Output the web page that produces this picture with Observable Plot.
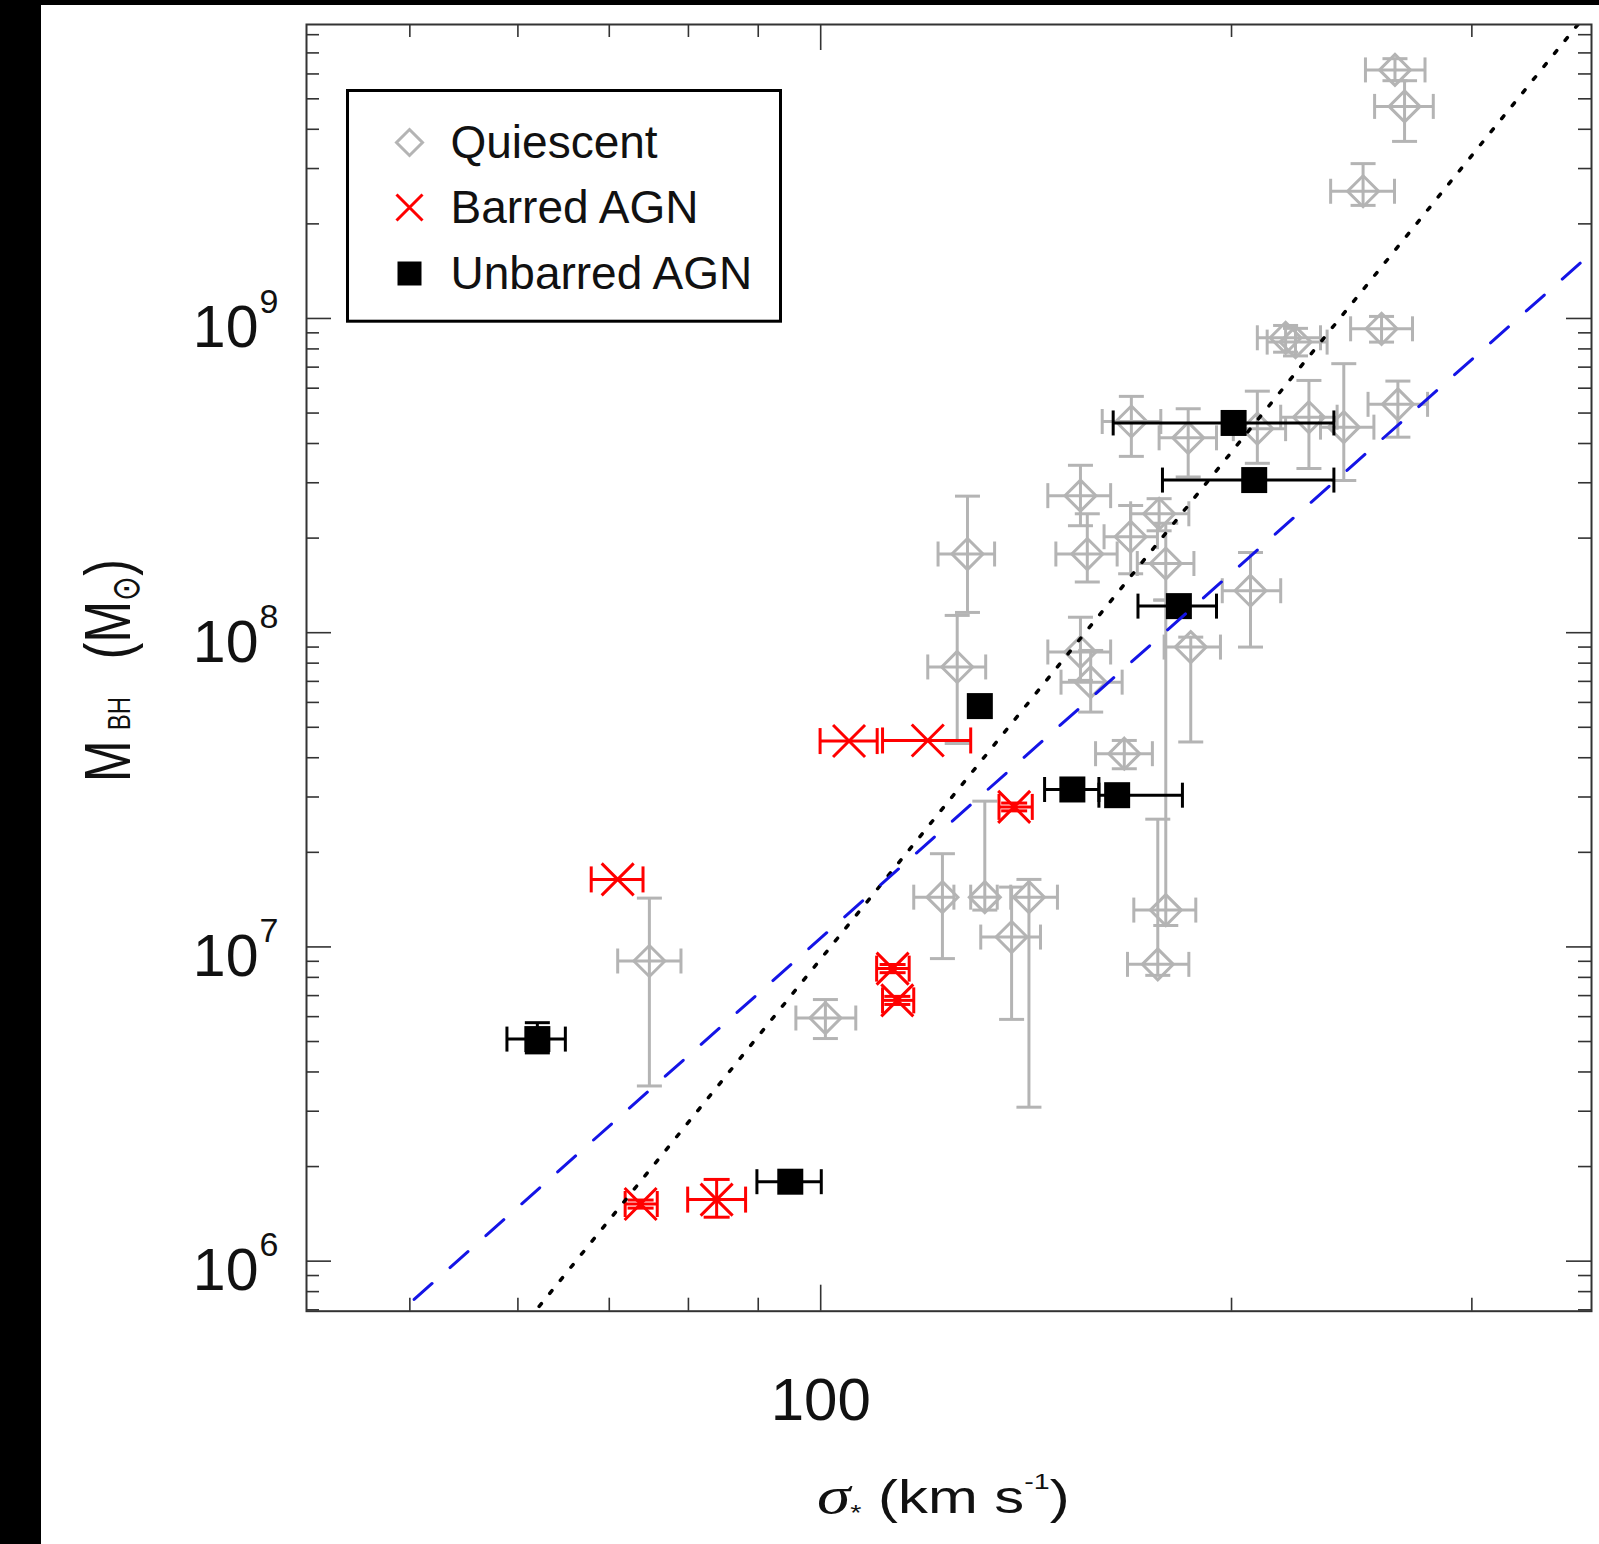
<!DOCTYPE html>
<html><head><meta charset="utf-8">
<script src="https://cdn.jsdelivr.net/npm/d3@7"></script>
<script src="https://cdn.jsdelivr.net/npm/@observablehq/plot@0.6"></script>
<style>
html,body{margin:0;padding:0;background:#000;}
#wrap{position:absolute;left:41px;top:5px;width:1558px;height:1539px;background:#fff;}
</style></head><body><div id="wrap"></div>
<script>
// ---------- data (sigma in km/s, M_BH in solar masses) ----------
const quiescentSigma   = [263.5, 267.8, 249.7, 219.1, 222.8, 257.6, 264.8, 241.7, 227.9, 208.9, 185.9, 168.9, 155.0, 177.0, 168.7, 156.8, 179.0, 179.0, 176.6, 206.5, 186.7, 155.0, 157.7, 125.9, 128.1, 166.9, 122.8, 131.9, 142.1, 138.0, 74.9, 100.8];
const quiescentSigmaLo = [250.7, 254.6, 236.4, 208.9, 212.4, 244.5, 251.8, 232.4, 217.3, 200.6, 177.0, 160.8, 146.7, 168.7, 161.3, 148.7, 170.6, 169.6, 167.8, 196.9, 178.5, 146.7, 150.0, 119.8, 121.9, 159.0, 117.0, 128.8, 137.8, 131.0, 71.0, 95.9];
const quiescentSigmaHi = [277.2, 281.1, 263.3, 232.4, 235.0, 271.4, 278.4, 254.3, 239.0, 219.1, 195.0, 177.5, 163.1, 186.1, 176.5, 164.9, 187.7, 188.3, 186.1, 217.3, 196.3, 163.1, 166.3, 132.1, 134.1, 175.0, 125.2, 134.7, 149.1, 144.9, 79.0, 106.1];
const quiescentMass    = [6.18e9, 4.73e9, 2.54e9, 8.68e8, 8.41e8, 9.27e8, 5.33e8, 4.51e8, 4.85e8, 4.46e8, 4.17e8, 4.70e8, 2.73e8, 2.39e8, 2.02e8, 1.78e8, 1.66e8, 1.31e7, 8.80e6, 1.36e8, 9.0e7, 8.68e7, 6.96e7, 7.78e7, 1.78e8, 4.12e7, 1.44e7, 1.44e7, 1.44e7, 1.075e7, 9.02e6, 5.94e6];
const quiescentMassLo  = [5.71e9, 3.66e9, 2.29e9, 7.81e8, 7.60e8, 8.41e8, 4.19e8, 3.05e8, 3.33e8, 3.46e8, 3.13e8, 3.64e8, 2.19e8, 2.11e8, 1.54e8, 1.45e8, 1.27e8, 1.17e7, 8.12e6, 9.0e7, 4.49e7, 7.05e7, 5.59e7, 4.44e7, 1.16e8, 3.69e7, 9.18e6, 1.31e7, 3.09e6, 5.88e6, 3.61e6, 5.11e6];
const quiescentMassHi  = [6.71e9, 5.71e9, 3.11e9, 9.50e8, 9.30e8, 1.015e9, 6.32e8, 7.18e8, 6.35e8, 5.87e8, 5.16e8, 5.65e8, 3.41e8, 2.67e8, 2.54e8, 2.39e8, 2.23e8, 1.27e8, 2.55e7, 1.80e8, 9.68e7, 1.12e8, 8.78e7, 1.135e8, 2.72e8, 4.54e7, 1.98e7, 2.91e7, 1.64e7, 1.55e7, 1.43e7, 6.80e6];

const barredSigma   = [119.8, 104.9, 138.6, 112.9, 113.8, 71.0, 73.8, 83.9];
const barredSigmaLo = [111.0, 99.9, 135.1, 109.9, 111.0, 67.9, 71.9, 79.9];
const barredSigmaHi = [128.8, 110.0, 142.9, 116.1, 117.0, 74.1, 75.9, 88.1];
const barredMass    = [4.54e7, 4.52e7, 2.79e7, 8.53e6, 6.76e6, 1.64e7, 1.52e6, 1.57e6];
const barredMassLo  = [null, null, 2.71e7, 8.28e6, 6.56e6, null, 1.475e6, 1.38e6];
const barredMassHi  = [null, null, 2.87e7, 8.79e6, 6.96e6, null, 1.565e6, 1.82e6];

const unbarredSigma   = [200.7, 207.8, 183.0, 130.8, 152.9, 164.9, 62.0, 95.0];
const unbarredSigmaLo = [163.8, 178.0, 170.8, null, 145.9, 159.9, 58.9, 89.8];
const unbarredSigmaHi = [237.7, 237.7, 195.0, null, 159.9, 184.1, 65.0, 100.1];
const unbarredMass    = [4.65e8, 3.06e8, 1.215e8, 5.84e7, 3.17e7, 3.04e7, 5.09e6, 1.79e6];
const unbarredMassLo  = [null, null, null, null, null, null, 4.6e6, null];
const unbarredMassHi  = [null, null, null, null, null, null, 5.74e6, null];

// fitted relations: log M = alpha + beta * log(sigma / 200)
const fitDotted = {alpha: 8.575, beta: 5.36};
const fitDashed = {alpha: 8.19, beta: 3.86};

// axes
const xDomain = [42.0, 367.1];
const yDomain = [6.93e5, 8.62e9];
const xMajorTicks = [100];
const xMinorTicks = [50, 60, 70, 80, 90, 200, 300];
const yMajorTicks = [1e6, 1e7, 1e8, 1e9];
const yMinorTicks = [];
for (let k = 5; k <= 9; k++) for (let m = 2; m <= 9; m++) { const v = m * 10 ** k; if (v > yDomain[0] && v < yDomain[1]) yMinorTicks.push(v); }

const legendLabels = ["Quiescent", "Barred AGN", "Unbarred AGN"];

// ---------- layout ----------
const W = 1558, H = 1539;
const mL = 265, mR = 8, mT = 19, mB = 233.3;
const innerW = W - mL - mR, innerH = H - mT - mB;
const gray = "#b4b4b4", red = "#ff0000", black = "#000000", axisColor = "#333333", blue = "#1414e6";

const rows = (s, sLo, sHi, m, mLo, mHi) => s.map((v, i) => ({s: v, sLo: sLo[i], sHi: sHi[i], m: m[i], mLo: mLo[i], mHi: mHi[i]}));
const quiescent = rows(quiescentSigma, quiescentSigmaLo, quiescentSigmaHi, quiescentMass, quiescentMassLo, quiescentMassHi);
const barred = rows(barredSigma, barredSigmaLo, barredSigmaHi, barredMass, barredMassLo, barredMassHi);
const unbarred = rows(unbarredSigma, unbarredSigmaLo, unbarredSigmaHi, unbarredMass, unbarredMassLo, unbarredMassHi);

function sym(fn) { return {draw(ctx, size) { const r = Math.sqrt(size / Math.PI); fn(ctx, r); }}; }
const vCap = sym((c, r) => { c.moveTo(0, -r); c.lineTo(0, r); });
const hCap = sym((c, r) => { c.moveTo(-r, 0); c.lineTo(r, 0); });
const diamond = sym((c, r) => { c.moveTo(0, -r); c.lineTo(r, 0); c.lineTo(0, r); c.lineTo(-r, 0); c.closePath(); });
const xMark = sym((c, r) => { c.moveTo(-r, -r); c.lineTo(r, r); c.moveTo(-r, r); c.lineTo(r, -r); });
const square = sym((c, r) => { c.rect(-r, -r, 2 * r, 2 * r); });

function errorMarks(data, color, w, cap) {
  const hx = data.filter(d => d.sLo != null && d.sHi != null);
  const vy = data.filter(d => d.mLo != null && d.mHi != null);
  const o = {stroke: color, strokeWidth: w, fill: "none"};
  return [
    Plot.ruleY(hx, {y: "m", x1: "sLo", x2: "sHi", ...o}),
    Plot.ruleX(vy, {x: "s", y1: "mLo", y2: "mHi", ...o}),
    Plot.dot(hx, {x: "sLo", y: "m", symbol: vCap, r: cap, ...o}),
    Plot.dot(hx, {x: "sHi", y: "m", symbol: vCap, r: cap, ...o}),
    Plot.dot(vy, {x: "s", y: "mLo", symbol: hCap, r: cap, ...o}),
    Plot.dot(vy, {x: "s", y: "mHi", symbol: hCap, r: cap, ...o})
  ];
}
const fitLine = f => xDomain.map(s => ({s, m: 10 ** (f.alpha + f.beta * Math.log10(s / 200))}));

const chart = Plot.plot({
  width: W, height: H,
  marginLeft: mL, marginRight: mR, marginTop: mT, marginBottom: mB,
  x: {type: "log", domain: xDomain, axis: null},
  y: {type: "log", domain: yDomain, axis: null},
  style: {fontFamily: "'Liberation Sans', Arial, Helvetica, sans-serif", background: "#ffffff", color: "#111"},
  marks: [
    // ticks (inward)
    Plot.ruleX(xMinorTicks, {x: d => d, insetTop: innerH - 13, stroke: axisColor, strokeWidth: 1.6}),
    Plot.ruleX(xMinorTicks, {x: d => d, insetBottom: innerH - 13, stroke: axisColor, strokeWidth: 1.6}),
    Plot.ruleX(xMajorTicks, {x: d => d, insetTop: innerH - 26, stroke: axisColor, strokeWidth: 1.6}),
    Plot.ruleX(xMajorTicks, {x: d => d, insetBottom: innerH - 26, stroke: axisColor, strokeWidth: 1.6}),
    Plot.ruleY(yMinorTicks, {y: d => d, insetRight: innerW - 13, stroke: axisColor, strokeWidth: 1.6}),
    Plot.ruleY(yMinorTicks, {y: d => d, insetLeft: innerW - 13, stroke: axisColor, strokeWidth: 1.6}),
    Plot.ruleY(yMajorTicks, {y: d => d, insetRight: innerW - 25, stroke: axisColor, strokeWidth: 1.6}),
    Plot.ruleY(yMajorTicks, {y: d => d, insetLeft: innerW - 25, stroke: axisColor, strokeWidth: 1.6}),
    // tick labels
    Plot.text(yMajorTicks, {y: d => d, frameAnchor: "left", text: () => "10", textAnchor: "end", lineAnchor: "bottom", dx: -48, dy: 29, fontSize: 59, fill: "#111"}),
    Plot.text(yMajorTicks, {y: d => d, frameAnchor: "left", text: d => String(Math.round(Math.log10(d))), textAnchor: "start", lineAnchor: "bottom", dx: -47, dy: -5, fontSize: 34, fill: "#111"}),
    Plot.text(xMajorTicks, {x: d => d, frameAnchor: "bottom", text: d => String(d), lineAnchor: "bottom", dy: 109, fontSize: 60, fill: "#111"}),
    // quiescent
    ...errorMarks(quiescent, gray, 3, 12.5),
    Plot.dot(quiescent, {x: "s", y: "m", symbol: diamond, r: 15.5, stroke: gray, strokeWidth: 3, fill: "none"}),
    // barred AGN
    ...errorMarks(barred, red, 3, 13),
    Plot.dot(barred, {x: "s", y: "m", symbol: xMark, r: 16, stroke: red, strokeWidth: 3, fill: "none"}),
    // unbarred AGN
    ...errorMarks(unbarred, black, 3, 12.5),
    Plot.dot(unbarred, {x: "s", y: "m", symbol: square, r: 13, fill: black, stroke: "none"}),
    // fits
    Plot.line(fitLine(fitDotted), {x: "s", y: "m", stroke: black, strokeWidth: 3.5, strokeDasharray: "3.5,13.3", clip: true}),
    Plot.line(fitLine(fitDashed), {x: "s", y: "m", stroke: blue, strokeWidth: 3, strokeDasharray: "24,24", clip: true}),
    // frame
    Plot.frame({stroke: axisColor, strokeWidth: 2}),
    // legend
    Plot.frame({fill: "#ffffff", stroke: "#000000", strokeWidth: 3, insetLeft: 41, insetTop: 66, insetRight: 811, insetBottom: 990}),
    Plot.dot([0], {x: null, y: null, frameAnchor: "top-left", dx: 103, dy: 118, symbol: diamond, r: 13, stroke: gray, strokeWidth: 3, fill: "none"}),
    Plot.dot([0], {x: null, y: null, frameAnchor: "top-left", dx: 103, dy: 183, symbol: xMark, r: 13, stroke: red, strokeWidth: 3, fill: "none"}),
    Plot.dot([0], {x: null, y: null, frameAnchor: "top-left", dx: 103, dy: 249, symbol: square, r: 12, fill: black, stroke: "none"}),
    Plot.text([legendLabels[0]], {x: null, y: null, text: d => d, frameAnchor: "top-left", dx: 144, dy: 133, textAnchor: "start", lineAnchor: "bottom", fontSize: 46, fill: "#111"}),
    Plot.text([legendLabels[1]], {x: null, y: null, text: d => d, frameAnchor: "top-left", dx: 144, dy: 198, textAnchor: "start", lineAnchor: "bottom", fontSize: 46, fill: "#111"}),
    Plot.text([legendLabels[2]], {x: null, y: null, text: d => d, frameAnchor: "top-left", dx: 144, dy: 264, textAnchor: "start", lineAnchor: "bottom", fontSize: 46, fill: "#111"})
  ]
});
document.getElementById("wrap").appendChild(chart);

// axis titles with sub/superscripts
const svg = d3.select(chart);
const sans = "'Liberation Sans', Arial, Helvetica, sans-serif";
const xt = svg.append("text").attr("transform", "translate(776,1508) scale(1.3,1)")
  .attr("text-anchor", "start")
  .attr("font-family", sans).attr("font-size", 46).attr("fill", "#111");
xt.append("tspan").attr("font-family", "'Liberation Serif', 'DejaVu Serif', serif").attr("font-style", "italic").attr("font-size", 52).text("σ");
xt.append("tspan").attr("font-size", 22).attr("dy", 7).text("*");
xt.append("tspan").attr("dy", -7).text(" (km s");
xt.append("tspan").attr("font-size", 22).attr("dy", -24).text("-1");
xt.append("tspan").attr("dy", 24).text(")");

const yt = svg.append("text").attr("transform", "translate(89,777) rotate(-90) scale(1,1.3)")
  .attr("text-anchor", "start")
  .attr("font-family", sans).attr("font-size", 50).attr("fill", "#111");
yt.append("tspan").text("M");
yt.append("tspan").attr("font-size", 24).attr("dx", 10).text("BH");
yt.append("tspan").attr("dx", 10).text("  (M");
yt.append("tspan").attr("font-family", "'DejaVu Sans', sans-serif").attr("font-size", 30).attr("dy", 7).text("⊙");
yt.append("tspan").attr("dy", -7).text(")");
</script></body></html>
